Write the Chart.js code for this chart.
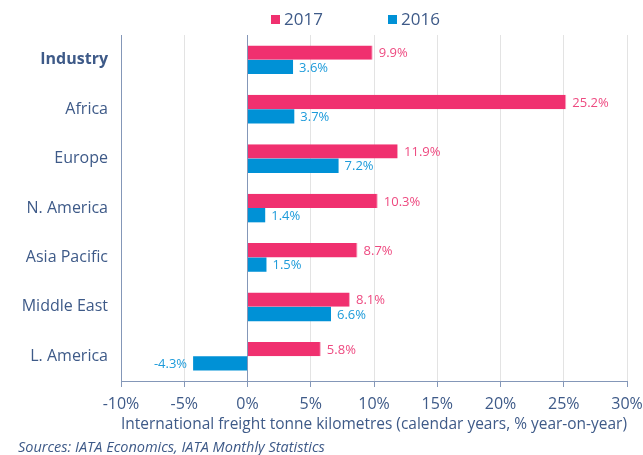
<!DOCTYPE html>
<html lang="en">
<head>
  <meta charset="UTF-8">
  <title>International freight tonne kilometres</title>
  <script src="https://cdn.jsdelivr.net/npm/chart.js"></script>
  <style>
    html, body { margin: 0; padding: 0; background: #fff; }
    #wrap { width: 643px; height: 455px; }
  </style>
</head>
<body>
  <div id="wrap"><canvas id="freightChart" width="643" height="455"></canvas></div>
  <script>
    const regions = ['Industry', 'Africa', 'Europe', 'N. America', 'Asia Pacific', 'Middle East', 'L. America'];
    const growth2017 = [9.9, 25.2, 11.9, 10.3, 8.7, 8.1, 5.8];
    const growth2016 = [3.6, 3.7, 7.2, 1.4, 1.5, 6.6, -4.3];
    const axisTitle = 'International freight tonne kilometres (calendar years, % year-on-year)';
    const sourceNote = 'Sources: IATA Economics, IATA Monthly Statistics';

    const textColor = '#3E5A88';
    const axisColor = '#8497B8';
    const pink = '#F0306F';
    const blue = '#0091D6';
    const fontFamily = '"Open Sans", Lato, sans-serif';

    // value labels, legend and source line drawn on top of the chart
    const extras = {
      id: 'extras',
      afterDatasetsDraw(chart) {
        const ctx = chart.ctx;
        ctx.save();
        ctx.font = '13px ' + fontFamily;
        ctx.textBaseline = 'middle';
        chart.data.datasets.forEach((ds, i) => {
          chart.getDatasetMeta(i).data.forEach((bar, j) => {
            const v = ds.data[j];
            ctx.fillStyle = ds.labelColor;
            if (v >= 0) {
              ctx.textAlign = 'left';
              ctx.fillText(v.toFixed(1) + '%', bar.x + 6, bar.y + 1);
            } else {
              ctx.textAlign = 'right';
              ctx.fillText(v.toFixed(1) + '%', bar.x - 6, bar.y + 1);
            }
          });
        });

        // legend
        ctx.font = '17px ' + fontFamily;
        ctx.textAlign = 'left';
        const legendX = [271, 388];
        chart.data.datasets.forEach((ds, i) => {
          ctx.fillStyle = ds.backgroundColor;
          ctx.fillRect(legendX[i], 15, 9, 9);
          ctx.fillStyle = textColor;
          ctx.fillText(ds.label, legendX[i] + 13, 20);
        });

        // source
        ctx.font = 'italic 14.5px ' + fontFamily;
        ctx.fillStyle = textColor;
        ctx.fillText(sourceNote, 18, 448);
        ctx.restore();
      }
    };

    new Chart(document.getElementById('freightChart'), {
      type: 'bar',
      data: {
        labels: regions,
        datasets: [
          { label: '2017', data: growth2017, backgroundColor: pink, labelColor: '#EE4A80',
            borderColor: '#F7A6C1', borderWidth: { right: 1 }, borderSkipped: false },
          { label: '2016', data: growth2016, backgroundColor: blue, labelColor: '#1D9BDA',
            borderColor: '#8CCBEC', borderWidth: 0, borderSkipped: false }
        ]
      },
      options: {
        indexAxis: 'y',
        responsive: false,
        animation: false,
        datasets: { bar: { categoryPercentage: 0.58, barPercentage: 1.0 } },
        layout: { padding: { top: 35, right: 0, bottom: 21, left: 0 } },
        plugins: {
          legend: { display: false },
          tooltip: { enabled: false }
        },
        scales: {
          x: {
            min: -10,
            max: 30,
            afterFit(scale) { scale.height = 53; scale.paddingRight = 16; },
            ticks: {
              stepSize: 5,
              padding: 8,
              color: textColor,
              font: { family: fontFamily, size: 16 },
              callback: v => v + '%'
            },
            grid: {
              color: ctx => (ctx.tick && ctx.tick.value === 0) ? axisColor : '#E3E3E3',
              tickColor: axisColor,
              tickLength: 6
            },
            border: { display: true, color: axisColor },
            title: {
              display: true,
              text: axisTitle,
              color: textColor,
              font: { family: fontFamily, size: 16 },
              padding: { top: 0, bottom: 0 }
            }
          },
          y: {
            afterFit(scale) { scale.width = 121; },
            ticks: {
              padding: 5,
              color: textColor,
              font: ctx => ({ family: fontFamily, size: 16, weight: ctx.index === 0 ? 'bold' : 'normal' })
            },
            grid: { display: false },
            border: { display: true, color: axisColor }
          }
        }
      },
      plugins: [extras]
    });
  </script>
</body>
</html>
